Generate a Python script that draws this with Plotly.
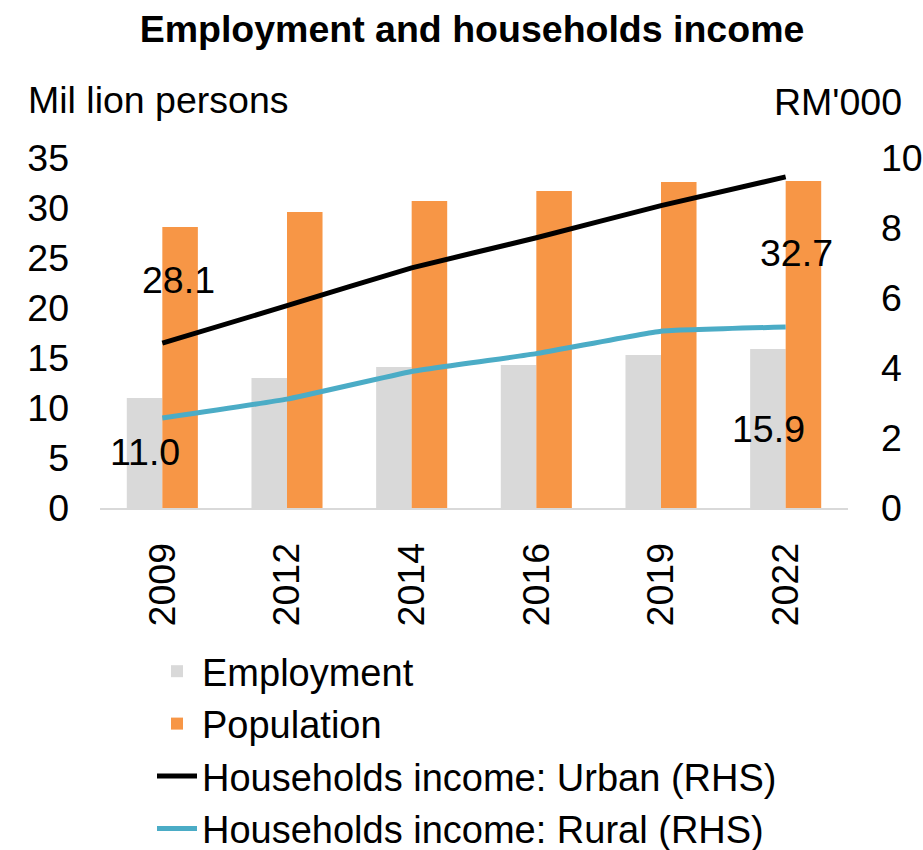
import plotly.graph_objects as go

# ---- data ----
years = ["2009", "2012", "2014", "2016", "2019", "2022"]
employment = [11.0, 13.0, 14.1, 14.3, 15.3, 15.9]
population = [28.1, 29.6, 30.7, 31.7, 32.6, 32.7]
urban_income = [4.71, 5.78, 6.86, 7.72, 8.64, 9.46]
rural_income = [2.57, 3.11, 3.90, 4.41, 5.05, 5.17]
left_ticks = [0, 5, 10, 15, 20, 25, 30, 35]
right_ticks = [0, 2, 4, 6, 8, 10]

# ---- layout geometry (pixels) ----
W, H = 923, 850
L, R, T, B = 100, 75, 158, 342
PW, PH = W - L - R, H - T - B

def px_x(px):
    return (px - L) / PW

def px_y(py):
    return (H - B - py) / PH

FONT = "Liberation Sans, Arial, sans-serif"
FS = 37.5
GRAY = "#D9D9D9"
ORANGE = "#F79646"
TEAL = "#4BACC6"

fig = go.Figure()
fig.add_trace(go.Bar(x=years, y=employment, name="Employment",
                     marker=dict(color=GRAY, line=dict(width=0))))
fig.add_trace(go.Bar(x=years, y=population, name="Population",
                     marker=dict(color=ORANGE, line=dict(width=0))))
fig.add_trace(go.Scatter(x=years, y=urban_income, name="Households income: Urban (RHS)",
                         mode="lines", yaxis="y2",
                         line=dict(color="black", width=5, shape="spline", smoothing=0.3)))
fig.add_trace(go.Scatter(x=years, y=rural_income, name="Households income: Rural (RHS)",
                         mode="lines", yaxis="y2",
                         line=dict(color=TEAL, width=5, shape="spline", smoothing=0.3)))

# data labels (first & last of each bar series), with their display offsets
label_specs = [
    (0, population[0], 0.13, -5.3),
    (0, employment[0], -0.14, -5.4),
    (5, population[5], 0.09, -7.2),
    (5, employment[5], -0.14, -8.0),
]
annotations = []
for idx, val, dx, dy in label_specs:
    annotations.append(dict(x=idx + dx, y=val + dy, xref="x", yref="y",
                            text=f"{val:.1f}", showarrow=False,
                            font=dict(size=FS, color="black", family=FONT)))

annotations.append(dict(x=px_x(26), y=px_y(100), xref="paper", yref="paper",
                        xanchor="left", yanchor="middle", text="Mil lion persons",
                        showarrow=False, font=dict(size=FS, color="black", family=FONT)))
annotations.append(dict(x=px_x(904), y=px_y(102), xref="paper", yref="paper",
                        xanchor="right", yanchor="middle", text="RM'000",
                        showarrow=False, font=dict(size=FS, color="black", family=FONT)))

fig.update_layout(
    width=W, height=H,
    margin=dict(l=L, r=R, t=T, b=B, autoexpand=False),
    paper_bgcolor="white", plot_bgcolor="white",
    font=dict(family=FONT, size=FS, color="black"),
    title=dict(text="<b>Employment and households income</b>",
               x=px_x(472), xref="paper", xanchor="center",
               y=1 - 29 / H, yref="container", yanchor="middle",
               font=dict(size=FS, family=FONT, color="black")),
    barmode="group", bargap=0.43, bargroupgap=0,
    xaxis=dict(type="category", showgrid=False, showline=True, linecolor=GRAY,
               linewidth=2, ticks="", tickangle=-90, ticklabelstandoff=18,
               tickfont=dict(size=FS), zeroline=False),
    yaxis=dict(range=[0, 35], tickvals=left_ticks, showgrid=False, showline=False,
               zeroline=False, ticks="", ticklabelstandoff=30, tickfont=dict(size=FS)),
    yaxis2=dict(range=[0, 10], tickvals=right_ticks, overlaying="y", side="right",
                showgrid=False, showline=False, zeroline=False, ticks="",
                ticklabelstandoff=32, tickfont=dict(size=FS)),
    legend=dict(orientation="v", x=px_x(152), y=px_y(640), xanchor="left", yanchor="top",
                font=dict(size=38, family=FONT), tracegroupgap=0, itemwidth=40,
                bgcolor="rgba(0,0,0,0)", traceorder="normal"),
    annotations=annotations,
    showlegend=True,
)

fig.write_html("out.html")
